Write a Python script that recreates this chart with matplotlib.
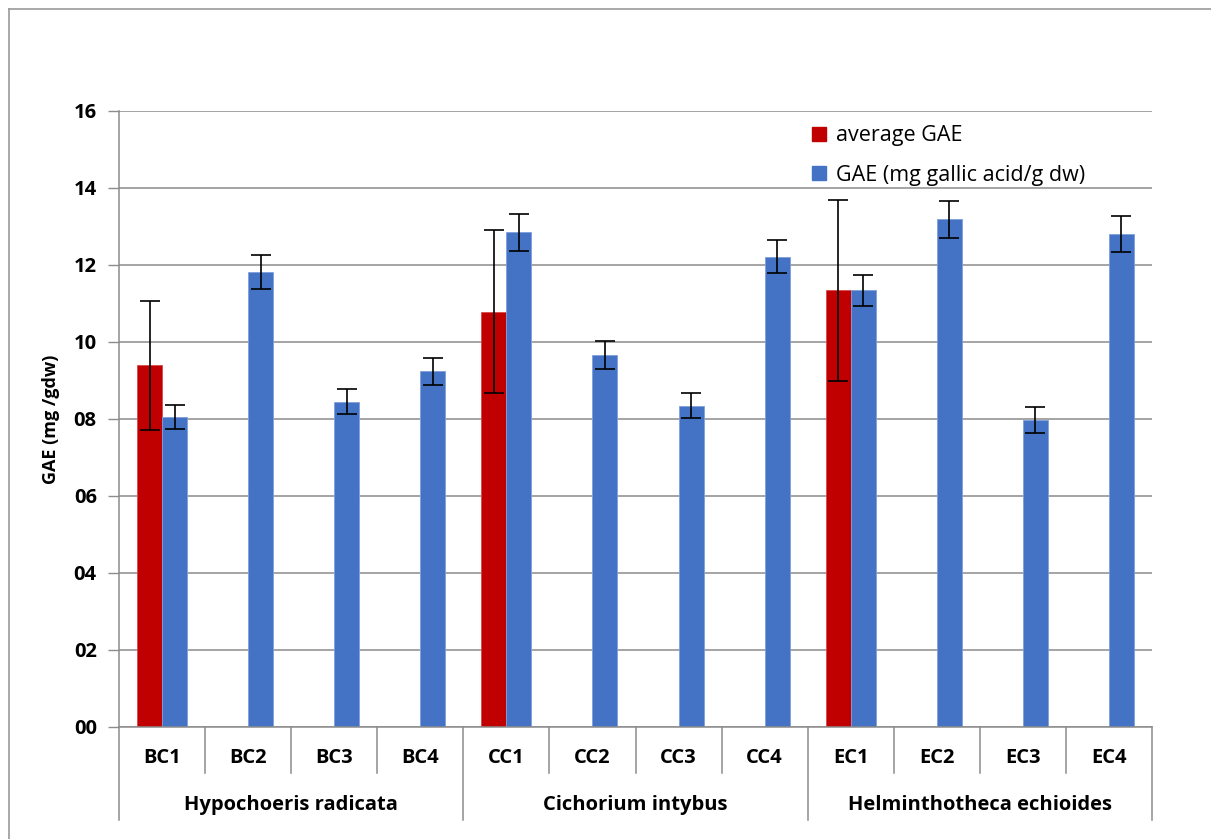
import matplotlib
matplotlib.use('Agg')
import matplotlib.pyplot as plt
from matplotlib.patches import Patch
from matplotlib.transforms import blended_transform_factory

plt.rcParams['font.family'] = ['Open Sans', 'DejaVu Sans']

samples = ['BC1', 'BC2', 'BC3', 'BC4', 'CC1', 'CC2', 'CC3', 'CC4',
           'EC1', 'EC2', 'EC3', 'EC4']
species = ['Hypochoeris radicata', 'Cichorium intybus', 'Helminthotheca echioides']
gae = [8.06, 11.82, 8.45, 9.24, 12.85, 9.66, 8.35, 12.22,
       11.34, 13.19, 7.97, 12.80]
gae_err = [0.31, 0.44, 0.32, 0.35, 0.48, 0.37, 0.33, 0.44,
           0.41, 0.48, 0.34, 0.47]
avg_idx = [0, 4, 8]
avg_gae = [9.39, 10.79, 11.34]
avg_err = [1.68, 2.12, 2.36]

red = '#C00000'
blue = '#4472C4'
grey = '#8c8c8c'
w = 0.29

fig = plt.figure(figsize=(12.11, 8.39), dpi=100)
ax = fig.add_axes([0.0983, 0.1335, 0.853, 0.7342])

x = list(range(len(samples)))
xb = [i + w / 2 for i in x]
xr = [i - w / 2 for i in avg_idx]

ax.bar(xr, avg_gae, width=w, color=red, edgecolor='#d94a4a', linewidth=0.6, zorder=2)
ax.bar(xb, gae, width=w, color=blue, edgecolor='#7fa0dc', linewidth=0.6, zorder=2)
ax.errorbar(xr, avg_gae, yerr=avg_err, fmt='none', ecolor='black',
            elinewidth=1.2, capsize=7, capthick=1.2, zorder=3)
ax.errorbar(xb, gae, yerr=gae_err, fmt='none', ecolor='black',
            elinewidth=1.2, capsize=7, capthick=1.2, zorder=3)

ax.set_xlim(-0.5, len(samples) - 0.5)
ax.set_ylim(0, 16)
ax.set_yticks(range(0, 17, 2))
ax.set_yticklabels([f'{v:02d}' for v in range(0, 17, 2)],
                   fontsize=14.5, fontweight='bold')
ax.tick_params(axis='y', length=8, color=grey, width=1, pad=8)
ax.set_xticks([])
ax.yaxis.grid(True, color=grey, linewidth=1.1)
ax.set_axisbelow(True)
for side in ['top', 'right']:
    ax.spines[side].set_visible(False)
ax.spines['left'].set_color(grey)
ax.spines['bottom'].set_color(grey)
ax.spines['left'].set_linewidth(1.1)
ax.spines['bottom'].set_linewidth(1.1)

ax.set_ylabel('GAE (mg /gdw)', fontsize=13, fontweight='bold', labelpad=10)

# two-level category axis below the plot
tr = blended_transform_factory(ax.transData, ax.transAxes)
for i in range(len(samples) + 1):
    edge = i - 0.5
    low = -0.151 if i % 4 == 0 else -0.0747
    ax.plot([edge, edge], [0, low], color=grey, linewidth=1.1,
            transform=tr, clip_on=False)
for i, s in enumerate(samples):
    ax.text(i, -0.050, s, transform=tr, ha='center', va='center',
            fontsize=14.5, fontweight='bold')
for g, name in enumerate(species):
    ax.text(g * 4 + 1.5, -0.127, name, transform=tr, ha='center', va='center',
            fontsize=14.5, fontweight='bold')

handles = [Patch(color=red, label='average GAE'),
           Patch(color=blue, label='GAE (mg gallic acid/g dw)')]
ax.legend(handles=handles, loc='upper left', bbox_to_anchor=(0.652, 1.008),
          frameon=False, fontsize=15.5, handlelength=0.65, handleheight=0.65,
          handletextpad=0.45, labelspacing=0.85)

# outer chart frame
fig.add_artist(plt.Line2D([0.0075, 1.0], [0.989, 0.989], color='#9a9a9a',
                          linewidth=1.2, transform=fig.transFigure))
fig.add_artist(plt.Line2D([0.0075, 0.0075], [0.0, 0.989], color='#9a9a9a',
                          linewidth=1.2, transform=fig.transFigure))

fig.savefig('out.png', dpi=100)
